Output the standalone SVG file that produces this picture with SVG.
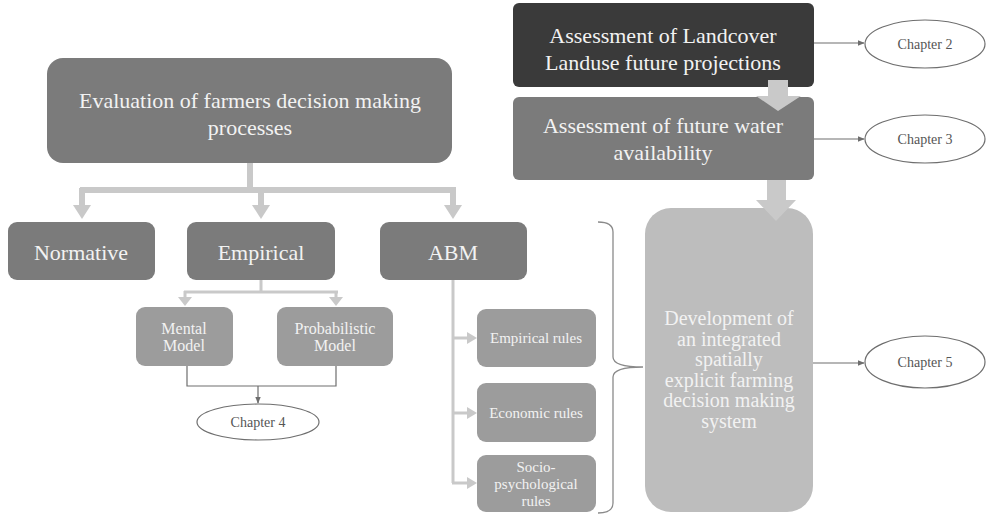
<svg xmlns="http://www.w3.org/2000/svg" width="986" height="514" viewBox="0 0 986 514">
<defs>
<style>
.t{font-family:"Liberation Serif","Times New Roman",serif;fill:#f2f2f2;text-anchor:middle;dominant-baseline:central}
.c{font-family:"Liberation Serif","Times New Roman",serif;fill:#555;text-anchor:middle;dominant-baseline:central;font-size:14px}
.g1{fill:#7b7b7b}
.g2{fill:#9c9c9c}
.thick{stroke:#c9c9c9;stroke-width:6;fill:none}
.mid{stroke:#c9c9c9;stroke-width:3;fill:none}
.head{fill:#c9c9c9}
.thin{stroke:#6e6e6e;stroke-width:1.2;fill:none}
.ell{fill:#fff;stroke:#6e6e6e;stroke-width:1.2}
</style>
<marker id="ah" viewBox="0 0 10 10" refX="9" refY="5" markerWidth="7" markerHeight="7" orient="auto" markerUnits="userSpaceOnUse">
<path d="M0,1 L10,5 L0,9 z" fill="#6e6e6e"/>
</marker>
</defs>
<rect width="986" height="514" fill="#fff"/>

<g id="connectors">
<path class="thick" d="M250,163 V190 M80,190 H456 M82,188 V206 M261,188 V206 M453,188 V206"/>
<polygon class="head" points="73,205 91,205 82,219"/>
<polygon class="head" points="252,205 270,205 261,219"/>
<polygon class="head" points="444,205 462,205 453,219"/>
<path class="mid" d="M261,280 V292 M184,292 H338 M185,291 V298 M336,291 V298"/>
<polygon class="head" points="178,297 192,297 185,306"/>
<polygon class="head" points="329,297 343,297 336,306"/>
<path class="mid" d="M453,280 V483 M452,338 H468 M452,413 H468 M452,483 H468"/>
<polygon class="head" points="467,332 477,338 467,344"/>
<polygon class="head" points="467,407 477,413 467,419"/>
<polygon class="head" points="467,477 477,483 467,489"/>
<path class="thin" d="M187,366 V386 H336 V366"/>
<path class="thin" d="M258,386 V403" marker-end="url(#ah)"/>
<path class="thin" d="M814,43 H864" marker-end="url(#ah)"/>
<path class="thin" d="M814,139 H864" marker-end="url(#ah)"/>
<path class="thin" d="M813,363 H864" marker-end="url(#ah)"/>
<path d="M598,222 Q613,222 613,232 V357 Q613,367 643,367 Q613,367 613,377 V503 Q613,513 598,513" fill="none" stroke="#8a8a8a" stroke-width="1.3"/>
</g>

<g id="n-eval"><rect class="g1" x="47" y="58" width="405" height="105" rx="16"/>
<text class="t" x="250" y="100" font-size="22">Evaluation of farmers decision making</text>
<text class="t" x="250" y="127" font-size="22">processes</text></g>

<g id="n-normative"><rect class="g1" x="8" y="222" width="147" height="58" rx="9"/>
<text class="t" x="81" y="252" font-size="22">Normative</text></g>

<g id="n-empirical"><rect class="g1" x="187" y="222" width="148" height="58" rx="9"/>
<text class="t" x="261" y="252" font-size="22">Empirical</text></g>

<g id="n-abm"><rect class="g1" x="380" y="222" width="147" height="58" rx="9"/>
<text class="t" x="453" y="252" font-size="22">ABM</text></g>

<g id="n-mental"><rect class="g2" x="136" y="307" width="97" height="59" rx="9"/>
<text class="t" x="184" y="328" font-size="16">Mental</text>
<text class="t" x="184" y="345" font-size="16">Model</text></g>

<g id="n-prob"><rect class="g2" x="277" y="307" width="116" height="59" rx="9"/>
<text class="t" x="335" y="328" font-size="16">Probabilistic</text>
<text class="t" x="335" y="345" font-size="16">Model</text></g>

<g id="n-ch4"><ellipse class="ell" cx="258" cy="422" rx="61" ry="18"/>
<text class="c" x="258" y="422">Chapter 4</text></g>

<g id="n-emprules"><rect class="g2" x="477" y="309" width="119" height="58" rx="9"/>
<text class="t" x="536" y="338" font-size="15">Empirical rules</text></g>

<g id="n-econ"><rect class="g2" x="477" y="383" width="119" height="59" rx="9"/>
<text class="t" x="536" y="413" font-size="15">Economic rules</text></g>

<g id="n-socio"><rect class="g2" x="477" y="455" width="119" height="57" rx="9"/>
<text class="t" x="536" y="467" font-size="15">Socio-</text>
<text class="t" x="536" y="484" font-size="15">psychological</text>
<text class="t" x="536" y="501" font-size="15">rules</text></g>

<g id="n-landcover"><rect fill="#3a3a3a" x="513" y="3" width="301" height="84" rx="6"/>
<text class="t" x="663" y="35" font-size="22">Assessment of Landcover</text>
<text class="t" x="663" y="62" font-size="22">Landuse future projections</text></g>

<g id="n-water"><rect class="g1" x="513" y="97" width="301" height="83" rx="6"/>
<text class="t" x="663" y="125" font-size="22">Assessment of future water</text>
<text class="t" x="663" y="152" font-size="22">availability</text></g>

<g id="n-dev"><rect fill="#bdbdbd" x="645" y="208" width="168" height="304" rx="26"/>
<text class="t" x="729" y="318" font-size="20">Development of</text>
<text class="t" x="729" y="338.5" font-size="20">an integrated</text>
<text class="t" x="729" y="359" font-size="20">spatially</text>
<text class="t" x="729" y="379.5" font-size="20">explicit farming</text>
<text class="t" x="729" y="400" font-size="20">decision making</text>
<text class="t" x="729" y="420.5" font-size="20">system</text></g>

<g id="block-arrows">
<polygon class="head" points="768,80 788,80 788,96 801,96 778,111 756,96 768,96"/>
<polygon class="head" points="767,180 786,180 786,200 796,200 776,221 756,200 767,200"/>
</g>

<g id="n-ch2"><ellipse class="ell" cx="925" cy="44" rx="60" ry="24"/>
<text class="c" x="925" y="44">Chapter 2</text></g>
<g id="n-ch3"><ellipse class="ell" cx="925" cy="139" rx="60" ry="24"/>
<text class="c" x="925" y="139">Chapter 3</text></g>
<g id="n-ch5"><ellipse class="ell" cx="925" cy="362" rx="60" ry="26"/>
<text class="c" x="925" y="362">Chapter 5</text></g>
</svg>
